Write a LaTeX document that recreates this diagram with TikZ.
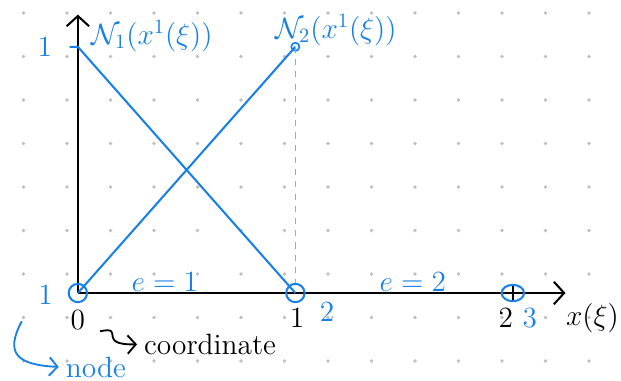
\documentclass[tikz,border=0pt]{standalone}
\usepackage{amssymb}
\usepackage{mathtools}
\usepackage{tikz}
\tikzset{x=.75cm,y=.75cm}
\usetikzlibrary{arrows.meta, calc, shapes.geometric}
\definecolor{inkblue}{RGB}{22,128,232}

\begin{document}
\begin{tikzpicture}[
  axis/.style={line width=1pt,-{Straight Barb[length=5pt,width=11pt,line width=1pt]}},
  shape fn/.style={inkblue,line width=1pt},
  elnode/.style={circle,draw=inkblue,line width=1pt,minimum size=9pt,inner sep=0pt},
  bluetxt/.style={inkblue,font=\Large},
  blacktxt/.style={font=\Large}]
\useasboundingbox (0,0) rectangle (14.276,8.736);
% dotted paper
\foreach \i in {0,...,13}
  \foreach \j in {0,...,8}
    \fill[gray!50] (0.54+\i,0.437+\j) circle (0.9pt);
% points
\coordinate (O) at (1.79,2);
\coordinate (Y1) at (1.79,7.66);
\coordinate (P) at (6.79,7.66);
% axes
\draw[axis] (O) -- (1.79,8.4);
\draw[axis] (O) -- (13.0,2);
\draw[line width=.8pt] (11.79,1.82) -- (11.79,2.18);
% nodes on the axis
\node[elnode] (n1) at (O) {};
\node[elnode] (n2) at (6.79,2) {};
\node[elnode,minimum width=11pt,minimum height=8pt,ellipse] (n3) at (11.79,2) {};
% shape functions
\draw[shape fn] (1.6,7.66) -- (Y1) -- (n2.center);
\draw[shape fn] (n1.center) -- (P);
\draw[inkblue,line width=.8pt] (P) circle (2pt);
\draw[inkblue!60,line width=.6pt,dashed] (P) -- (n2);
% labels
\node[bluetxt] (one) at (1.03,7.66) {$1$};
\node[inkblue,font=\Large] (N1) at (3.49,7.9) {$\mathcal{N}_1(x^1(\xi))$};
\node[inkblue,font=\Large] (N2) at (7.72,8.05) {$\mathcal{N}_2(x^1(\xi))$};
\node[bluetxt] (i1) at (1.05,1.95) {$1$};
\node[blacktxt] (c0) at (1.79,1.38) {$0$};
\node[blacktxt] (c1) at (6.83,1.43) {$1$};
\node[bluetxt] (i2) at (7.52,1.57) {$2$};
\node[blacktxt] (c2) at (11.63,1.43) {$2$};
\node[bluetxt] (i3) at (12.18,1.43) {$3$};
\node[font=\Large] (xl) at (13.62,1.43) {$x(\xi)$};
\node[bluetxt] (e1) at (3.79,2.25) {$e=1$};
\node[bluetxt] (e2) at (9.49,2.25) {$e=2$};
% notes
\node[font=\Large,anchor=west] (crd) at (3.15,0.82) {coordinate};
\node[inkblue,font=\Large,anchor=west] (nde) at (1.35,0.3) {node};
\draw[line width=.9pt,-{Straight Barb[length=4pt,width=9pt,line width=.9pt]}]
  (2.3,1.12) .. controls (2.9,1.25) and (2.2,0.8) .. (crd.west);
\draw[inkblue,line width=.9pt,-{Straight Barb[length=4pt,width=9pt,line width=.9pt]}]
  (0.5,1.35) .. controls (0.1,0.6) and (0.4,0.35) .. (nde.west);
\end{tikzpicture}
\end{document}
